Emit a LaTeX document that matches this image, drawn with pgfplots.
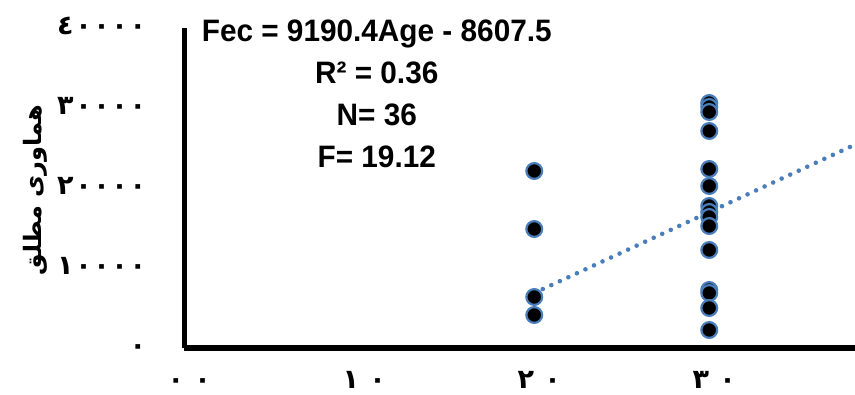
\documentclass[border=0pt]{standalone}
\usepackage{pgfplots}
\pgfplotsset{compat=1.18}
\usepackage{fontspec}
\setmainfont{Liberation Sans}
\newfontfamily\txtfont[FakeStretch=0.96]{Liberation Sans}
\newfontfamily\arabicfont[Script=Arabic]{DejaVu Sans}
\newfontfamily\digitfont[LetterSpace=6]{DejaVu Sans}
\newfontfamily\xdigitfont[LetterSpace=38]{DejaVu Sans}
\TeXXeTstate=1
\definecolor{mblue}{HTML}{4A7EBB}
\begin{document}
\begin{tikzpicture}
\path[use as bounding box] (-184.3pt,-46pt) rectangle (670.7pt,348pt);
\begin{axis}[
  at={(0,0)}, anchor=south west,
  scale only axis, width=670.7pt, height=320pt,
  xmin=0, xmax=38.33, ymin=0, ymax=40000,
  axis x line=bottom, axis y line=left,
  axis line style={-, line width=5.5pt, black},
  xtick={0,10,20,30}, xticklabels={٠٠,١٠,٢٠,٣٠},
  ytick={0,10000,20000,30000,40000},
  yticklabels={٠,١٠٠٠٠,٢٠٠٠٠,٣٠٠٠٠,٤٠٠٠٠},
  major tick length=0pt,
  scaled y ticks=false,
  xticklabel style={font=\xdigitfont\bfseries\fontsize{27}{27}\selectfont, anchor=base, inner sep=0pt, yshift=-40.5pt, xshift=5pt},
  yticklabel style={font=\digitfont\bfseries\fontsize{27}{27}\selectfont, anchor=base east, inner sep=0pt, xshift=-38pt, yshift=-6pt},
  ylabel={\arabicfont\bfseries\beginR هماوری مطلق\endR},
  ylabel style={at={(axis description cs:-0.222,0.494)}, anchor=center, font=\fontsize{24}{24}\selectfont},
  clip=false,
]
\addplot[only marks, mark=*, mark size=7.9pt, mark options={draw=mblue, fill=black, line width=2.2pt}] coordinates {
(20,22125) (20,14875) (20,6375) (20,4125)
(30,30625) (30,30125) (30,29500) (30,27125) (30,22375) (30,20250)
(30,17750) (30,17000) (30,16375) (30,15250) (30,12250) (30,7250)
(30,6875) (30,5000) (30,2250)
};
\addplot[mblue, line width=4.6pt, line cap=round, dash pattern=on 0pt off 9.4pt] coordinates {(20,6875) (38.33,25420)};
\node[align=center, font=\txtfont\bfseries\fontsize{31}{42}\selectfont] at (axis cs:11.0,31750) {Fec = 9190.4Age - 8607.5\\R² = 0.36\\N= 36\\F= 19.12};
\end{axis}
\end{tikzpicture}
\end{document}
